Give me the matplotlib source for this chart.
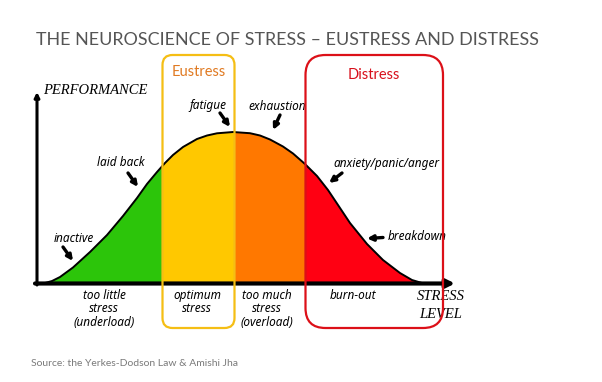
import numpy as np
import matplotlib.pyplot as plt
import matplotlib.transforms as mtransforms
from matplotlib.patches import Rectangle, FancyBboxPatch

# --- curve (stress level 0-100, performance 0-100) ---
stress = [1.92, 3.61, 5.53, 8.65, 12.74, 16.83, 20.67, 24.04, 26.44, 28.85, 30.77,
          32.69, 35.10, 38.46, 40.87, 43.27, 47.12, 51.20, 53.61, 56.01, 59.13,
          61.54, 64.42, 67.31, 69.95, 72.36, 75.24, 79.33, 83.17, 87.26, 90.14, 92.55]
performance = [0, 1.05, 3.16, 8.16, 16.32, 25.26, 35.26, 44.74, 52.11, 58.42, 63.16,
               67.37, 71.58, 75.79, 77.63, 78.79, 79.47, 78.84, 77.63, 75.53, 71.84,
               68.16, 62.63, 56.32, 48.95, 41.05, 31.58, 20.53, 12.11, 5.26, 1.58, 0]

zone_edges = [0, 30.0, 47.6, 64.4, 100]
zone_colors = ['#2cc50a', '#ffc800', '#ff7800', '#ff0012']
zone_labels = ['too little\nstress\n(underload)', 'optimum\nstress',
               'too much\nstress\n(overload)', 'burn-out']

title = 'THE NEUROSCIENCE OF STRESS \u2013 EUSTRESS AND DISTRESS'
source = 'Source: the Yerkes-Dodson Law & Amishi Jha'

fig = plt.figure(figsize=(6.02, 3.82), dpi=100)
# pixel coordinates (origin top-left) for layout elements
px = mtransforms.Affine2D().scale(1 / 602, -1 / 382).translate(0, 1) + fig.transFigure

# chart area: stress 0 at x=37px, 100 at x=453px; performance 0 at y=283px, 100 at y=93px
ax = fig.add_axes([37 / 602, (382 - 283) / 382, 416 / 602, 190 / 382])
ax.set_xlim(0, 100)
ax.set_ylim(0, 100)
ax.axis('off')

for i, c in enumerate(zone_colors):
    poly = ax.fill(stress, performance, color=c, lw=0, zorder=2)[0]
    clip = Rectangle((zone_edges[i], -5), zone_edges[i + 1] - zone_edges[i], 110,
                     transform=ax.transData)
    poly.set_clip_path(clip)
ax.plot(stress, performance, color='black', lw=1.4, zorder=3,
        solid_capstyle='round', solid_joinstyle='round')

# axes arrows
ax.annotate('', xy=(455, 283.5), xytext=(35, 283.5), xycoords=px, textcoords=px,
            arrowprops=dict(arrowstyle='-|>', lw=3, color='black', mutation_scale=12,
                            shrinkA=0, shrinkB=0), annotation_clip=False, zorder=4)
ax.annotate('', xy=(37, 92), xytext=(37, 285), xycoords=px, textcoords=px,
            arrowprops=dict(arrowstyle='-|>', lw=2.2, color='black', mutation_scale=7,
                            shrinkA=0, shrinkB=0), annotation_clip=False, zorder=4)

serif = dict(family='Liberation Serif', style='italic', color='black', fontsize=10.5)
fig.text(43, 91, 'PERFORMANCE', transform=px, ha='left', va='center', **serif)
fig.text(441, 297, 'STRESS', transform=px, ha='center', va='center', **serif)
fig.text(441, 315, 'LEVEL', transform=px, ha='center', va='center', **serif)

hand = dict(family='Noto Sans', style='italic', color='black', fontsize=8.5,
            fontweight='medium')

# zone labels under the axis
label_x = [104, 197, 267, 353]
for x, lab in zip(label_x, zone_labels):
    fig.text(x, 289, lab, transform=px, ha='center', va='top', linespacing=1.05, **hand)

# curve annotations: text, text position, arrow start, arrow end (pixels)
notes = [
    ('inactive', (74, 238), (63, 247), (73, 261)),
    ('laid back', (121, 163), (128, 173), (138, 187)),
    ('fatigue', (208, 106), (220, 113), (230, 127)),
    ('exhaustion', (277, 106), (280, 115), (273, 130)),
    ('anxiety/panic/anger', (387, 163), (342, 173), (329, 183)),
    ('breakdown', (417, 237), (383, 237.5), (367, 238.5)),
]
for txt, tpos, a0, a1 in notes:
    fig.text(tpos[0], tpos[1], txt, transform=px, ha='center', va='center', **hand)
    ax.annotate('', xy=a1, xytext=a0, xycoords=px, textcoords=px,
                arrowprops=dict(arrowstyle='-|>', lw=2.4, color='black',
                                mutation_scale=8, shrinkA=0, shrinkB=0),
                annotation_clip=False, zorder=5)

# Eustress / Distress boxes
eu = FancyBboxPatch((162.5, 55), 72, 273, boxstyle='round,pad=0,rounding_size=10',
                    transform=px, fill=False, edgecolor='#f5be14', lw=1.6, zorder=6)
di = FancyBboxPatch((305.5, 55), 137.5, 273, boxstyle='round,pad=0,rounding_size=20',
                    transform=px, fill=False, edgecolor='#dc1018', lw=1.6, zorder=6)
fig.add_artist(eu)
fig.add_artist(di)
fig.text(198.5, 72, 'Eustress', transform=px, ha='center', va='center',
         fontsize=10.5, color='#e07a22', family='Lato')
fig.text(374, 75, 'Distress', transform=px, ha='center', va='center',
         fontsize=10.5, color='#d8101c', family='Lato')

fig.text(36, 40, title, transform=px, ha='left', va='center', fontsize=12.9,
         color='#555555', family='Lato')
fig.text(31, 363, source, transform=px, ha='left', va='center', fontsize=7.5,
         color='#7a7a7a', family='Lato')

fig.savefig('out.png', dpi=100)
